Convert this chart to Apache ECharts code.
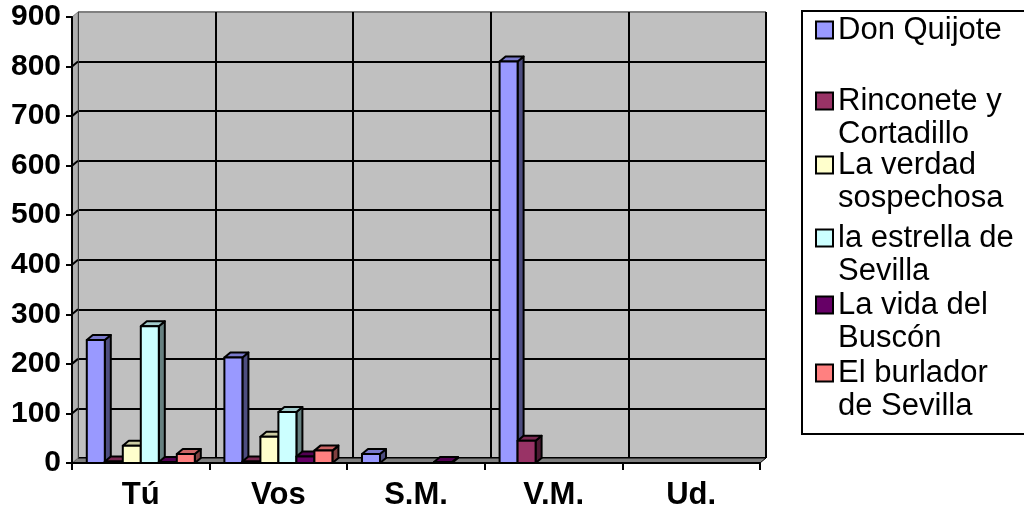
<!DOCTYPE html>
<html>
<head>
<meta charset="utf-8">
<script src="https://cdn.jsdelivr.net/npm/echarts@6/dist/echarts.min.js"></script>
<style>
  html, body { margin: 0; padding: 0; background: #fff; }
  #chart { width: 1024px; height: 511px; }
</style>
</head>
<body>
<div id="chart"></div>
<script>
// ---- data ----
const categories = ['Tú', 'Vos', 'S.M.', 'V.M.', 'Ud.'];
const seriesNames = ['Don Quijote', 'Rinconete y Cortadillo', 'La verdad sospechosa',
  'la estrella de Sevilla', 'La vida del Buscón', 'El burlador de Sevilla'];
const legendLines = [['Don Quijote'], ['Rinconete y', 'Cortadillo'], ['La verdad', 'sospechosa'],
  ['la estrella de', 'Sevilla'], ['La vida del', 'Buscón'], ['El burlador', 'de Sevilla']];
const donQuijote = [248, 213, 18, 810, 0];
const rinconete  = [3, 3, 0, 45, 0];
const verdad     = [35, 53, 0, 0, 0];
const estrella   = [276, 103, 0, 0, 0];
const vida       = [2, 13, 2, 0, 0];
const burlador   = [18, 25, 0, 0, 0];
const seriesValues = [donQuijote, rinconete, verdad, estrella, vida, burlador];
const yTicks = [0, 100, 200, 300, 400, 500, 600, 700, 800, 900];

// ---- style ----
const colors = ['#9999FF', '#993366', '#FFFFCC', '#CCFFFF', '#660066', '#FF8080'];
const DX = 6, DY = 5;
const FONT = 'Liberation Sans, Arial, sans-serif';

function shade(hex, f) {
  const n = parseInt(hex.slice(1), 16);
  const r = Math.round(((n >> 16) & 255) * f);
  const g = Math.round(((n >> 8) & 255) * f);
  const b = Math.round((n & 255) * f);
  return 'rgb(' + r + ',' + g + ',' + b + ')';
}

function makeBar(si) {
  const c = colors[si], top = shade(c, 0.8), side = shade(c, 0.5);
  return function (params, api) {
    const ci = api.value(0), v = api.value(1);
    if (!v) return null;
    const c0 = api.coord([ci, 0]);
    const c1 = api.coord([ci, v]);
    const cw = api.size([1, 0])[0];
    const bw = cw * 0.785 / 6;
    const x0 = c0[0] - 3 * bw + si * bw, x1 = x0 + bw;
    const yb = c0[1], yt = c1[1];
    const st = { stroke: '#000', lineWidth: 2, lineJoin: 'round' };
    return {
      type: 'group',
      children: [
        { type: 'polygon', shape: { points: [[x1, yb], [x1 + DX, yb - DY], [x1 + DX, yt - DY], [x1, yt]] },
          style: Object.assign({ fill: side }, st) },
        { type: 'polygon', shape: { points: [[x0, yt], [x0 + DX, yt - DY], [x1 + DX, yt - DY], [x1, yt]] },
          style: Object.assign({ fill: top }, st) },
        { type: 'rect', shape: { x: x0, y: yt, width: bw, height: yb - yt },
          style: Object.assign({ fill: c }, st) }
      ]
    };
  };
}

// floor and left side wall
function renderWalls(params, api) {
  const n = categories.length;
  const p0 = api.coord([0, 0]);
  const cw = api.size([1, 0])[0];
  const xl = p0[0] - cw / 2, xr = xl + n * cw, yb = p0[1];
  const yTop = api.coord([0, yTicks[yTicks.length - 1]])[1];
  const children = [
    { type: 'polygon', shape: { points: [[xl, yb], [xl + DX, yb - DY], [xr + DX, yb - DY], [xr, yb]] },
      style: { fill: '#808080', stroke: '#000', lineWidth: 1 } },
    { type: 'polygon', shape: { points: [[xl, yTop], [xl + DX, yTop - DY], [xl + DX, yb - DY], [xl, yb]] },
      style: { fill: '#b0b0b0', stroke: '#808080', lineWidth: 1 } }
  ];
  yTicks.forEach(function (t) {
    const y = api.coord([0, t])[1];
    if (t > 0 && t < yTicks[yTicks.length - 1]) {
      children.push({ type: 'line', shape: { x1: xl, y1: y, x2: xl + DX, y2: y - DY },
        style: { stroke: '#000', lineWidth: 2 } });
    }
  });
  return { type: 'group', children: children };
}

const gridW = 688, gridH = 446;
const series = seriesNames.map(function (name, si) {
  return {
    type: 'custom',
    name: name,
    xAxisIndex: 1, yAxisIndex: 1,
    z: 3 + si,
    itemStyle: { color: colors[si], borderColor: '#000', borderWidth: 2 },
    renderItem: makeBar(si),
    data: categories.map(function (c, i) { return [i, seriesValues[si][i]]; })
  };
});
series.unshift({
  type: 'custom', name: '__walls', xAxisIndex: 1, yAxisIndex: 1, z: 1, silent: true,
  renderItem: renderWalls, data: [[0, 0]]
});

const legendCenters = [30, 101, 165, 238, 305, 373];
const legends = seriesNames.map(function (name, si) {
  return {
    data: [name], left: 815, top: legendCenters[si] - 16, padding: 0,
    icon: 'rect', itemWidth: 17, itemHeight: 17,
    selectedMode: false,
    itemStyle: { borderColor: '#000', borderWidth: 2 },
    textStyle: { fontSize: 31, fontFamily: FONT, color: '#000', lineHeight: 32 },
    formatter: function () { return legendLines[si][0]; }
  };
});
const graphics = [
  { type: 'rect', left: 801, top: 10, z: 0,
    shape: { width: 240, height: 423 }, style: { fill: '#fff', stroke: '#000', lineWidth: 2 } }
];
legendLines.forEach(function (lines, si) {
  if (lines.length > 1) {
    graphics.push({ type: 'text', x: 838, y: legendCenters[si] + 33, z: 10,
      style: { text: lines[1], font: '31px ' + FONT, fill: '#000', verticalAlign: 'middle' } });
  }
});

const splitColors = yTicks.map(function (t, i) { return i === yTicks.length - 1 ? '#808080' : '#000'; });

const option = {
  animation: false,
  backgroundColor: '#fff',
  grid: [
    { left: 72 + DX, top: 17 - DY, width: gridW, height: gridH, show: true,
      backgroundColor: '#c0c0c0', borderWidth: 0 },
    { left: 72, top: 17, width: gridW, height: gridH }
  ],
  xAxis: [
    { type: 'category', gridIndex: 0, data: categories,
      axisLine: { show: false }, axisTick: { show: false }, axisLabel: { show: false },
      splitLine: { show: true, lineStyle: { color: '#000', width: 2 } } },
    { type: 'category', gridIndex: 1, data: categories, z: 6,
      axisLine: { show: true, lineStyle: { color: '#000', width: 2 } },
      axisTick: { show: true, length: 7, lineStyle: { color: '#000', width: 2 } },
      axisLabel: { fontSize: 31, fontWeight: 'bold', fontFamily: FONT, color: '#000', margin: 17 },
      splitLine: { show: false } }
  ],
  yAxis: [
    { type: 'value', gridIndex: 0, min: 0, max: 900, interval: 100,
      axisLine: { show: false }, axisTick: { show: false }, axisLabel: { show: false },
      splitLine: { show: true, lineStyle: { color: splitColors, width: 2 } } },
    { type: 'value', gridIndex: 1, min: 0, max: 900, interval: 100, z: 6,
      axisLine: { show: true, lineStyle: { color: '#000', width: 2 } },
      axisTick: { show: true, length: 6, lineStyle: { color: '#000', width: 2 } },
      axisLabel: { fontSize: 30, fontWeight: 'bold', fontFamily: FONT, color: '#000', margin: 11 },
      splitLine: { show: false } }
  ],
  legend: legends,
  graphic: graphics,
  series: series
};

const chart = echarts.init(document.getElementById('chart'), null, { renderer: 'canvas' });
chart.setOption(option);
</script>
</body>
</html>
